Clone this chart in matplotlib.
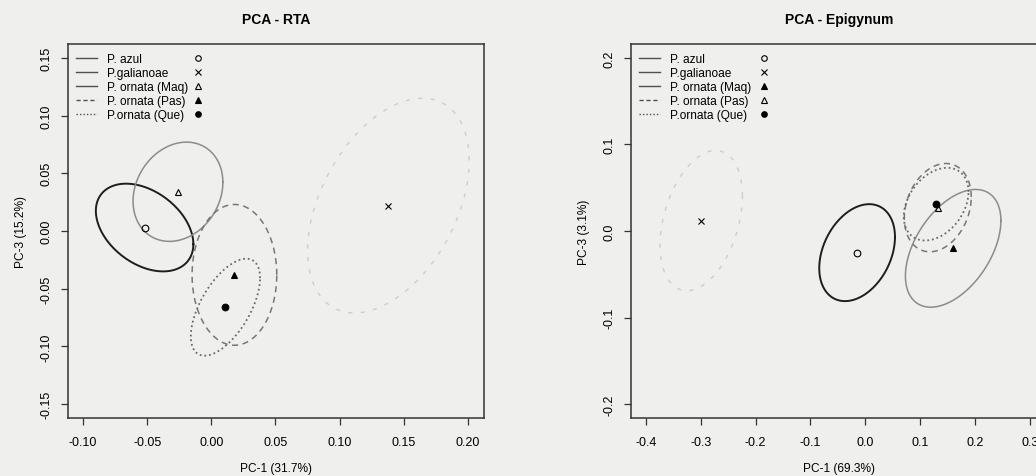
import matplotlib
matplotlib.use("Agg")
import matplotlib.pyplot as plt
from matplotlib.lines import Line2D
import numpy as np

plt.rcParams.update({
    "font.family": ["Liberation Sans", "DejaVu Sans"],
    "font.size": 8,
})

groups = ["P. azul", "P.galianoae", "P. ornata (Maq)", "P. ornata (Pas)", "P.ornata (Que)"]

# PCA - RTA: centroids and ellipse spreads (half-extent in x / y, tilt correlation)
rta_pc1 = [-0.052, 0.138, -0.026, 0.018, 0.011]
rta_pc3 = [0.003, 0.022, 0.034, -0.038, -0.066]
rta_hw = [0.038, 0.063, 0.035, 0.033, 0.027]
rta_hh = [0.038, 0.093, 0.043, 0.061, 0.042]
rta_r = [-0.38, 0.42, 0.19, 0.0, 0.60]

# PCA - Epigynum
epi_pc1 = [-0.015, -0.299, 0.160, 0.132, 0.129]
epi_pc3 = [-0.025, 0.012, -0.020, 0.027, 0.031]
epi_hw = [0.069, 0.075, 0.087, 0.061, 0.059]
epi_hh = [0.056, 0.081, 0.068, 0.051, 0.042]
epi_r = [0.32, 0.35, 0.47, 0.24, 0.34]

rta_xticks = [-0.10, -0.05, 0.00, 0.05, 0.10, 0.15, 0.20]
rta_yticks = [-0.15, -0.10, -0.05, 0.00, 0.05, 0.10, 0.15]
epi_xticks = [-0.4, -0.3, -0.2, -0.1, 0.0, 0.1, 0.2, 0.3]
epi_yticks = [-0.2, -0.1, 0.0, 0.1, 0.2]

# styles per group
line_cols = ["#1e1e1e", "#cdcdcb", "#8c8c8c", "#777777", "#6a6a6a"]
line_ls = ["-", (0, (3, 6)), "-", (0, (4, 3)), (0, (1, 1.6))]
line_lw = [1.4, 1.0, 1.1, 1.1, 1.3]
rta_marks = [("o", "none"), ("x", "k"), ("^", "none"), ("^", "k"), ("o", "k")]
epi_marks = [("o", "none"), ("x", "k"), ("^", "k"), ("^", "none"), ("o", "k")]
legend_ls = ["-", "-", "-", (0, (3, 2)), (0, (1, 1.5))]

BG = "#efefed"


def ellipse(cx, cy, hw, hh, r, n=200):
    t = np.linspace(0, 2 * np.pi, n)
    x = cx + hw * np.cos(t)
    y = cy + hh * (r * np.cos(t) + np.sqrt(1 - r ** 2) * np.sin(t))
    return x, y


def draw_panel(ax, title, pc1, pc3, hw, hh, rr, marks, xticks, yticks, xlim, ylim,
               xfmt, yfmt, xlabel, ylabel, text_x, mark_x):
    ax.set_facecolor(BG)
    for i in range(len(groups)):
        ex, ey = ellipse(pc1[i], pc3[i], hw[i], hh[i], rr[i])
        ax.plot(ex, ey, color=line_cols[i], linestyle=line_ls[i], linewidth=line_lw[i])
    for i in range(len(groups)):
        m, fc = marks[i]
        ax.plot(pc1[i], pc3[i], marker=m, markersize=4.8, markerfacecolor=fc,
                markeredgecolor="k", markeredgewidth=0.8, linestyle="none")

    ax.set_xlim(*xlim)
    ax.set_ylim(*ylim)
    ax.set_xticks(xticks)
    ax.set_yticks(yticks)
    ax.set_xticklabels([xfmt.format(v) for v in xticks])
    ax.set_yticklabels([yfmt.format(v) for v in yticks], rotation=90, va="center")
    ax.tick_params(direction="out", length=5, width=0.9, color="#333333",
                   labelsize=9, pad=8)
    ax.tick_params(axis="y", pad=6)
    for s in ax.spines.values():
        s.set_color("#333333")
        s.set_linewidth(1.1)
    ax.set_title(title, fontsize=10, fontweight="bold", pad=15)
    ax.set_xlabel(xlabel, fontsize=8.6, labelpad=10)
    ax.set_ylabel(ylabel, fontsize=8.6, labelpad=10)

    line_handles = [Line2D([], [], color="#505050", linestyle=legend_ls[i], linewidth=1.0)
                    for i in range(len(groups))]
    leg1 = ax.legend(line_handles, groups, loc="upper left", bbox_to_anchor=(text_x, 0.976),
                     frameon=False, fontsize=8.6, handlelength=1.7, handletextpad=0.85,
                     labelspacing=0.17, borderaxespad=0, borderpad=0)
    ax.add_artist(leg1)
    mark_handles = [Line2D([], [], marker=marks[i][0], markersize=4.0,
                           markerfacecolor=marks[i][1], markeredgecolor="k",
                           markeredgewidth=0.8, linestyle="none")
                    for i in range(len(groups))]
    ax.legend(mark_handles, [""] * len(groups), loc="upper left",
              bbox_to_anchor=(mark_x, 0.976), frameon=False, fontsize=8.6,
              handlelength=1.0, handletextpad=0, labelspacing=0.17,
              borderaxespad=0, borderpad=0)


fig = plt.figure(figsize=(10.36, 4.77), dpi=100)
fig.patch.set_facecolor(BG)

W, H = 1036, 477
ax1 = fig.add_axes([68 / W, 58 / H, 416 / W, 374 / H])
ax2 = fig.add_axes([631 / W, 58 / H, 416 / W, 374 / H])

draw_panel(ax1, "PCA - RTA", rta_pc1, rta_pc3, rta_hw, rta_hh, rta_r, rta_marks,
           rta_xticks, rta_yticks, (-0.1117, 0.2125), (-0.162, 0.162),
           "{:.2f}", "{:.2f}", "PC-1 (31.7%)", "PC-3 (15.2%)", 0.02, 0.297)
draw_panel(ax2, "PCA - Epigynum", epi_pc1, epi_pc3, epi_hw, epi_hh, epi_r, epi_marks,
           epi_xticks, epi_yticks, (-0.427, 0.331), (-0.216, 0.216),
           "{:.1f}", "{:.1f}", "PC-1 (69.3%)", "PC-3 (3.1%)", 0.02, 0.305)

fig.savefig("out.png", dpi=100, facecolor=BG)
